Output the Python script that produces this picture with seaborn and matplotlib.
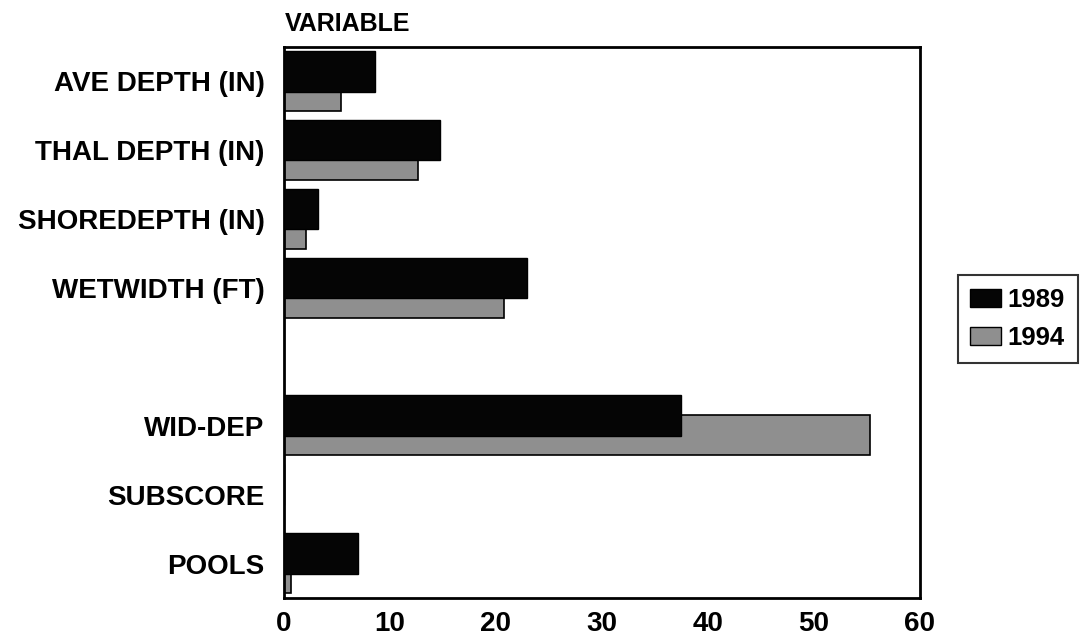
import matplotlib
matplotlib.use("Agg")
import matplotlib.pyplot as plt
import seaborn as sns
import pandas as pd
import numpy as np
from matplotlib.patches import Patch

categories = ["AVE DEPTH (IN)", "THAL DEPTH (IN)", "SHOREDEPTH (IN)", "WETWIDTH (FT)",
              " ", "WID-DEP", "SUBSCORE", "POOLS"]
years = ["1989", "1994"]
vals_1989 = [8.6, 14.7, 3.2, 22.9, np.nan, 37.5, 0.0, 7.0]
vals_1994 = [5.4, 12.6, 2.1, 20.8, np.nan, 55.3, 0.0, 0.7]
xticks = [0, 10, 20, 30, 40, 50, 60]
colors = {"1989": "#050505", "1994": "#8f8f8f"}

rows = []
for c, a, b in zip(categories, vals_1989, vals_1994):
    rows.append({"cat": c, "year": "1989", "val": a})
    rows.append({"cat": c, "year": "1994", "val": b})
df = pd.DataFrame(rows).dropna()

sns.set_theme(style="white")
plt.rcParams["font.family"] = ["Liberation Sans", "DejaVu Sans"]
plt.rcParams["font.weight"] = "bold"
plt.rcParams["text.color"] = "black"

fig = plt.figure(figsize=(10.82, 6.41), dpi=100)
ax = fig.add_axes([0.2625, 0.067, 0.5875, 0.86])

sns.barplot(data=df, y="cat", x="val", hue="year", order=categories,
            hue_order=years, palette=colors,
            orient="h", dodge=True, width=0.88, ax=ax, legend=False)

# 3D-like overlap: 1994 bar sits behind 1989, shifted down
h = 0.59
off = 0.28
bars = [p for p in ax.patches if isinstance(p, matplotlib.patches.Rectangle)]
n = len(bars) // 2
for p in bars[:n]:
    center = p.get_y() + p.get_height()
    p.set_y(center - 0.44)
    p.set_height(h)
    p.set_edgecolor("black")
    p.set_linewidth(1.0)
    p.set_zorder(3)
for p in bars[n:]:
    center = p.get_y()
    p.set_y(center - 0.44 + off)
    p.set_height(h)
    p.set_edgecolor("black")
    p.set_linewidth(1.2)
    p.set_zorder(2)

ax.set_xlim(0, 60)
ax.set_ylim(len(categories) - 0.5, -0.5)
ax.set_xticks(xticks)
ax.set_xticklabels([str(t) for t in xticks], fontsize=20, fontweight="bold")
ax.set_yticks(range(len(categories)))
ax.set_yticklabels(categories, fontsize=20, fontweight="bold")
ax.tick_params(axis="both", length=0, colors="black")
ax.tick_params(axis="x", pad=9)
ax.tick_params(axis="y", pad=14)
ax.set_xlabel("")
ax.set_ylabel("")
for s in ax.spines.values():
    s.set_visible(True)
    s.set_color("black")
    s.set_linewidth(2)
ax.grid(False)

ax.text(0.002, 1.02, "VARIABLE", transform=ax.transAxes, fontsize=18,
        fontweight="bold", ha="left", va="bottom", color="black")

handles = [Patch(facecolor=colors[y], edgecolor="black", label=y) for y in years]
leg = fig.legend(handles=handles, loc="center left", bbox_to_anchor=(0.885, 0.502),
                 prop={"size": 18.5, "weight": "bold"}, frameon=True, fancybox=False,
                 handlelength=1.2, handleheight=0.7, handletextpad=0.25,
                 borderpad=0.5, labelspacing=0.55, borderaxespad=0,
                 labelcolor="black")
leg.get_frame().set_edgecolor("black")
leg.get_frame().set_linewidth(1.5)

fig.savefig("out.png", dpi=100, facecolor="white")
